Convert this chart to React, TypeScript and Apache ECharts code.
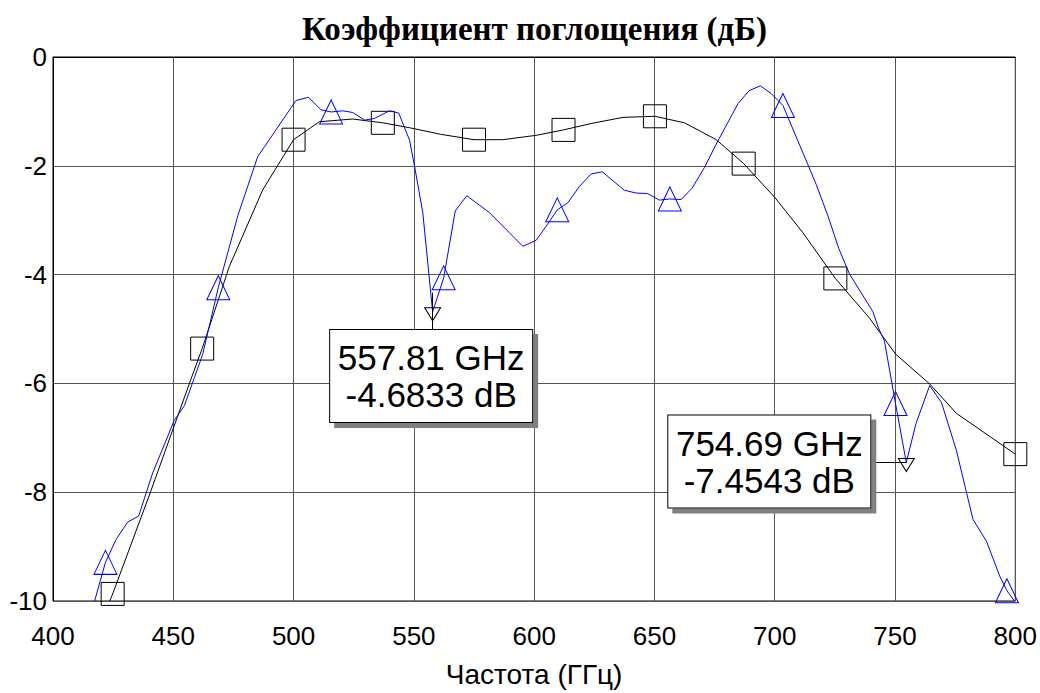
import React, { useEffect, useRef } from "react";
import * as echarts from "echarts";

// ---- data ----
const titleText = "Коэффициент поглощения (дБ)";
const xAxisName = "Частота (ГГц)";

const blackFreq = [423.6, 424.8, 440.5, 456.7, 462.0, 473.3, 487.2, 500.0, 510.7, 524.6, 537.1, 548.2, 561.0, 575.0, 587.0, 600.8, 612.2, 624.0, 636.9, 650.2, 662.5, 675.7, 687.1, 700.2, 711.7, 725.2, 739.4, 750.2, 764.4, 775.5, 800.0];
const blackDb = [-10.0, -9.87, -8.0, -6.0, -5.36, -3.85, -2.44, -1.52, -1.19, -1.14, -1.21, -1.30, -1.42, -1.52, -1.52, -1.44, -1.34, -1.22, -1.11, -1.09, -1.21, -1.52, -1.96, -2.59, -3.23, -4.07, -4.80, -5.46, -6.01, -6.55, -7.30];
const blackMarkerIdx = [1, 4, 7, 10, 13, 16, 19, 22, 25, 30];

const blueFreq = [417.3, 421.8, 426.2, 431.0, 435.6, 441.4, 450.4, 454.6, 458.8, 462.2, 468.7, 476.8, 485.1, 487.9, 501.0, 506.2, 511.4, 515.6, 520.5, 524.6, 529.5, 533.6, 539.8, 543.7, 548.2, 550.3, 553.7, 557.81, 562.4, 567.2, 572.0, 581.4, 589.7, 595.3, 600.8, 605.0, 609.6, 614.0, 618.8, 623.7, 628.3, 637.5, 642.4, 647.1, 652.0, 656.4, 661.1, 665.7, 670.8, 675.7, 684.7, 689.3, 694.0, 698.5, 703.4, 713.8, 717.3, 722.1, 726.7, 731.1, 740.8, 743.1, 745.6, 750.2, 754.69, 758.7, 764.4, 769.3, 775.5, 782.4, 788.0, 793.5, 796.5, 799.6];
const blueDb = [-10.0, -9.29, -8.87, -8.55, -8.44, -7.65, -6.68, -6.41, -5.89, -5.47, -4.24, -2.92, -1.83, -1.65, -0.80, -0.74, -0.97, -1.01, -0.99, -1.02, -1.16, -1.13, -0.99, -1.03, -1.53, -2.01, -2.86, -4.6833, -4.06, -2.83, -2.55, -2.86, -3.23, -3.48, -3.37, -3.11, -2.81, -2.68, -2.38, -2.15, -2.11, -2.45, -2.50, -2.51, -2.63, -2.61, -2.62, -2.41, -2.03, -1.60, -0.86, -0.62, -0.53, -0.67, -0.89, -1.98, -2.35, -2.92, -3.53, -3.99, -4.68, -4.98, -5.22, -6.37, -7.4543, -6.74, -6.04, -6.35, -7.23, -8.50, -8.90, -9.54, -9.81, -10.0];
const blueMarkerIdx = [1, 10, 17, 28, 36, 45, 54, 63, 72];

// annotations
const markerA = { freq: 557.81, db: -4.6833, text: "557.81 GHz\n-4.6833 dB" };
const markerB = { freq: 754.69, db: -7.4543, text: "754.69 GHz\n-7.4543 dB" };

const xMin = 400, xMax = 800, xStep = 50;
const yMin = -10, yMax = 0, yStep = 2;

const SANS = '"Liberation Sans", Arial, sans-serif';
const SERIF = '"Liberation Serif", "Times New Roman", serif';

function buildData(xs: number[], ys: number[], markIdx: number[]) {
  return xs.map((x, i) =>
    markIdx.includes(i) ? { value: [x, ys[i]] } : { value: [x, ys[i]], symbol: "none" }
  );
}

const boxLabel = (text: string, offset: number[]) => ({
  show: true,
  position: "inside",
  offset,
  formatter: text,
  color: "#000",
  fontFamily: SANS,
  fontSize: 35,
  lineHeight: 37,
  width: 200,
  height: 74,
  align: "center",
  verticalAlign: "middle",
  padding: [9, 1, 9, 1],
  backgroundColor: "#fff",
  borderColor: "#000",
  borderWidth: 1,
  shadowColor: "#808080",
  shadowOffsetX: 5,
  shadowOffsetY: 5,
  shadowBlur: 0,
});

const downTri = (freq: number, db: number) => ({
  coord: [freq, db],
  symbol: "triangle",
  symbolRotate: 180,
  symbolSize: [16, 13],
  symbolOffset: [0, 2.5],
  itemStyle: { color: "rgba(0,0,0,0)", borderColor: "#000", borderWidth: 1 },
  label: { show: false },
});

export default function App() {
  const ref = useRef<HTMLDivElement>(null);
  useEffect(() => {
    if (!ref.current) return;
    const chart = echarts.init(ref.current, null, { renderer: "svg" });
    chart.setOption({
      animation: false,
      backgroundColor: "#fff",
      graphic: [
        {
          type: "text",
          x: 534.5,
          y: 28.5,
          style: {
            text: titleText,
            font: `bold 33px ${SERIF}`,
            align: "center",
            verticalAlign: "middle",
            fill: "#000",
          },
        },
      ],
      grid: {
        left: 53,
        right: 24,
        top: 57,
        bottom: 87.5,
        show: true,
        borderColor: "#000",
        borderWidth: 1,
        backgroundColor: "#fff",
      },
      xAxis: {
        type: "value",
        min: xMin,
        max: xMax,
        interval: xStep,
        name: xAxisName,
        nameLocation: "middle",
        nameGap: 59,
        nameTextStyle: { color: "#000", fontFamily: SANS, fontSize: 28 },
        axisLine: { show: true, lineStyle: { color: "#000", width: 1 } },
        axisTick: { show: false },
        axisLabel: { color: "#000", fontFamily: SANS, fontSize: 26, margin: 22 },
        splitLine: { show: true, lineStyle: { color: "#555", width: 1 } },
      },
      yAxis: {
        type: "value",
        min: yMin,
        max: yMax,
        interval: yStep,
        axisLine: { show: true, lineStyle: { color: "#000", width: 1 } },
        axisTick: { show: false },
        axisLabel: { color: "#000", fontFamily: SANS, fontSize: 26, margin: 6 },
        splitLine: { show: true, lineStyle: { color: "#555", width: 1 } },
      },
      series: [
        {
          type: "line",
          clip: false,
          data: buildData(blackFreq, blackDb, blackMarkerIdx),
          symbol: "rect",
          symbolSize: 23,
          showSymbol: true,
          lineStyle: { color: "#000", width: 1 },
          itemStyle: { color: "rgba(0,0,0,0)", borderColor: "#000", borderWidth: 1 },
          z: 2,
        },
        {
          type: "line",
          clip: false,
          data: buildData(blueFreq, blueDb, blueMarkerIdx),
          symbol: "triangle",
          symbolSize: [23, 24],
          showSymbol: true,
          lineStyle: { color: "#0000ff", width: 1 },
          itemStyle: { color: "rgba(0,0,0,0)", borderColor: "#0000ff", borderWidth: 1 },
          z: 3,
          markLine: {
            silent: true,
            symbol: ["none", "none"],
            label: { show: false },
            lineStyle: { color: "#000", width: 1, type: "solid" },
            data: [
              [{ coord: [markerA.freq, -4.33] }, { coord: [markerA.freq, -5.018] }],
              [{ coord: [739.4, markerB.db] }, { coord: [markerB.freq, markerB.db] }],
            ],
          },
          markPoint: {
            silent: true,
            data: [
              downTri(markerA.freq, markerA.db),
              downTri(markerB.freq, markerB.db),
              {
                coord: [markerA.freq, markerA.db],
                symbol: "rect",
                symbolSize: 0,
                itemStyle: { color: "rgba(0,0,0,0)" },
                label: boxLabel(markerA.text, [-1.5, 64.3]),
              },
              {
                coord: [markerB.freq, markerB.db],
                symbol: "rect",
                symbolSize: 0,
                itemStyle: { color: "rgba(0,0,0,0)" },
                label: boxLabel(markerB.text, [-137, -1]),
              },
            ],
          },
        },
      ],
    });
    return () => chart.dispose();
  }, []);
  return (
    <div
      ref={ref}
      style={{ position: "absolute", left: 0, top: 0, width: 1040, height: 693 }}
    />
  );
}
